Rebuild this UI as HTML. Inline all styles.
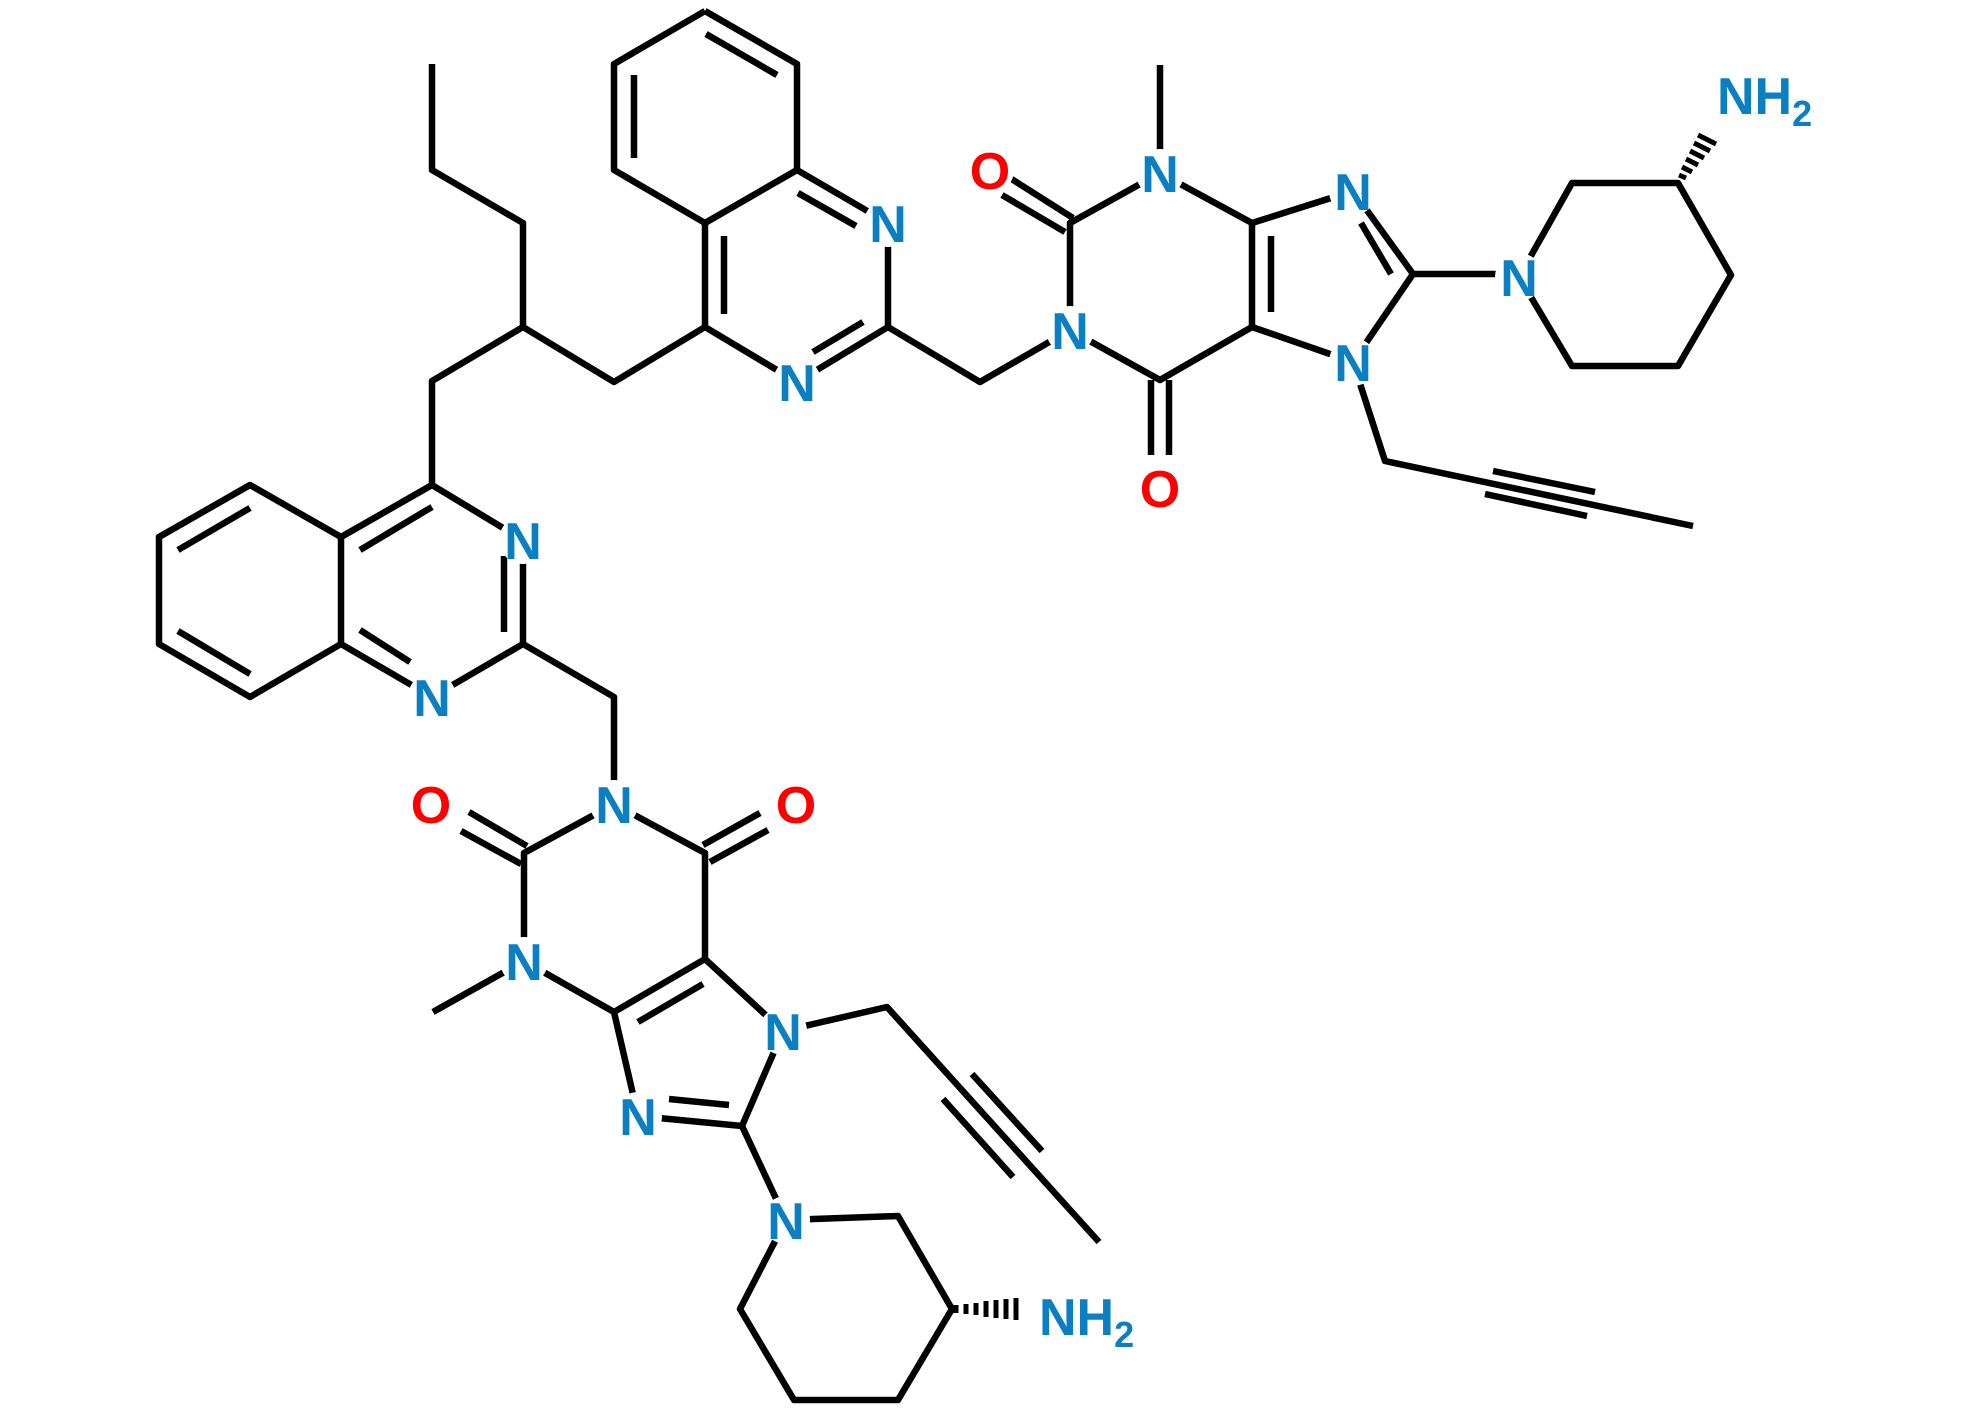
<!DOCTYPE html>
<html><head><meta charset="utf-8"><style>html,body{margin:0;padding:0;background:#fff}</style></head>
<body>
<svg width="1980" height="1411" viewBox="0 0 1980 1411" xmlns="http://www.w3.org/2000/svg">
<g stroke="#000" stroke-width="6.5" stroke-linecap="butt" stroke-linejoin="round" fill="none">
<!-- top quinazoline benzene -->
<polyline points="705,11 797,64 797,170 705,223 614,170 614,64 705,11"/>
<line x1="634" y1="75" x2="634" y2="158"/>
<line x1="706" y1="34" x2="777" y2="75"/>
<!-- top pyrimidine -->
<polyline points="797,170 888,223 888,327 797,382 705,327 705,223"/>
<line x1="798" y1="193" x2="856" y2="226"/>
<line x1="724" y1="236" x2="724" y2="314"/>
<line x1="813" y1="352" x2="863" y2="322"/>
<!-- chain -->
<polyline points="705,327 614,382 523,327 523,223 432,170 432,64"/>
<polyline points="523,327 432,381 432,485"/>
<!-- lower quinazoline -->
<polyline points="432,485 523,540 523,644 432,697 341,644 341,537 432,485"/>
<line x1="360" y1="550" x2="432" y2="507"/>
<line x1="504" y1="556" x2="504" y2="632"/>
<line x1="360" y1="630" x2="410" y2="662"/>
<polyline points="341,537 250,485 159,537 159,644 250,697 341,644"/>
<line x1="250" y1="508" x2="178" y2="550"/>
<line x1="178" y1="631" x2="250" y2="674"/>
<!-- link to lower xanthine -->
<polyline points="523,644 614,697 614,804"/>
<!-- upper link -->
<polyline points="888,327 980,382 1070,330"/>
<!-- upper xanthine -->
<polyline points="1070,330 1070,223 1160,173 1252,223 1252,327 1160,380 1070,330"/>
<line x1="1271" y1="236" x2="1271" y2="312"/>
<line x1="1160" y1="173" x2="1160" y2="65"/>
<line x1="1073" y1="218" x2="1010" y2="178"/>
<line x1="1065" y1="232" x2="1002" y2="195"/>
<line x1="1151" y1="380" x2="1151" y2="455"/>
<line x1="1169" y1="380" x2="1169" y2="455"/>
<polyline points="1252,223 1353,191 1413,274 1353,362 1252,327"/>
<line x1="1361" y1="223" x2="1391" y2="274"/>
<polyline points="1353,362 1385,461 1693,526"/>
<line x1="1493" y1="471" x2="1595" y2="492"/>
<line x1="1485" y1="494" x2="1587" y2="516"/>
<!-- upper piperidine -->
<polyline points="1413,274 1519,274"/>
<polyline points="1519,277 1572,183 1678,183 1731,275 1678,366 1572,366 1519,277"/>
<!-- lower xanthine -->
<polyline points="614,804 705,853 705,959 614,1012 524,961 524,853 614,804"/>
<line x1="469" y1="812" x2="527" y2="846"/>
<line x1="461" y1="831" x2="521" y2="864"/>
<line x1="703" y1="845" x2="760" y2="813"/>
<line x1="710" y1="862" x2="768" y2="830"/>
<line x1="524" y1="961" x2="433" y2="1012"/>
<polyline points="705,959 783,1031 742,1126 638,1116 614,1012"/>
<line x1="638" y1="1022" x2="703" y2="984"/>
<line x1="669" y1="1099" x2="729" y2="1105"/>
<polyline points="783,1031 887,1007 1099,1242"/>
<line x1="972" y1="1074" x2="1042" y2="1151"/>
<line x1="943" y1="1099" x2="1013" y2="1177"/>
<!-- lower piperidine -->
<polyline points="742,1126 786,1220"/>
<polyline points="786,1220 898,1216 952,1309 898,1400 794,1400 740,1309 786,1220"/>
</g>
<!-- hashed wedges -->
<g stroke="#000" stroke-width="5">
<line x1="956" y1="1305" x2="956" y2="1313"/>
<line x1="966" y1="1304" x2="966" y2="1314"/>
<line x1="976" y1="1303" x2="976" y2="1315"/>
<line x1="986" y1="1301" x2="986" y2="1317"/>
<line x1="996" y1="1300" x2="996" y2="1318"/>
<line x1="1006" y1="1299" x2="1006" y2="1319"/>
<line x1="1016" y1="1298" x2="1016" y2="1320"/>
<line x1="1679" y1="175" x2="1686" y2="178"/>
<line x1="1682" y1="167" x2="1692" y2="172"/>
<line x1="1686" y1="159" x2="1698" y2="165"/>
<line x1="1690" y1="151" x2="1704" y2="158"/>
<line x1="1694" y1="143" x2="1710" y2="151"/>
<line x1="1698" y1="135" x2="1716" y2="144"/>
</g>
<!-- label backgrounds -->
<g fill="#fff">
<circle cx="888" cy="223" r="24"/><circle cx="797" cy="382" r="24"/>
<circle cx="523" cy="540" r="24"/><circle cx="432" cy="697" r="24"/>
<circle cx="1160" cy="173" r="24"/><circle cx="1070" cy="330" r="24"/>
<circle cx="990" cy="170" r="24"/><circle cx="1160" cy="488" r="24"/>
<circle cx="1353" cy="191" r="24"/><circle cx="1353" cy="362" r="24"/>
<circle cx="1519" cy="277" r="24"/>
<circle cx="614" cy="804" r="24"/><circle cx="431" cy="804" r="24"/><circle cx="796" cy="804" r="24"/>
<circle cx="524" cy="961" r="24"/><circle cx="783" cy="1031" r="24"/><circle cx="638" cy="1116" r="24"/>
<circle cx="786" cy="1220" r="24"/>
</g>
<g font-family="Liberation Sans, Arial, sans-serif" font-size="52" font-weight="bold" text-anchor="middle">
<g fill="#0a7fc2">
<text x="888" y="242">N</text><text x="797" y="401">N</text>
<text x="523" y="559">N</text><text x="432" y="716">N</text>
<text x="1160" y="192">N</text><text x="1070" y="349">N</text>
<text x="1353" y="210">N</text><text x="1353" y="381">N</text>
<text x="1519" y="296">N</text>
<text x="614" y="823">N</text><text x="524" y="980">N</text>
<text x="783" y="1050">N</text><text x="638" y="1135">N</text>
<text x="786" y="1239">N</text>
<text x="1717" y="114" text-anchor="start">NH<tspan font-size="36" dy="12">2</tspan></text>
<text x="1039" y="1335" text-anchor="start">NH<tspan font-size="36" dy="12">2</tspan></text>
</g>
<g fill="#ff0000">
<text x="990" y="189">O</text><text x="1160" y="507">O</text>
<text x="431" y="823">O</text><text x="796" y="823">O</text>
</g>
</g>
</svg>
</body></html>
